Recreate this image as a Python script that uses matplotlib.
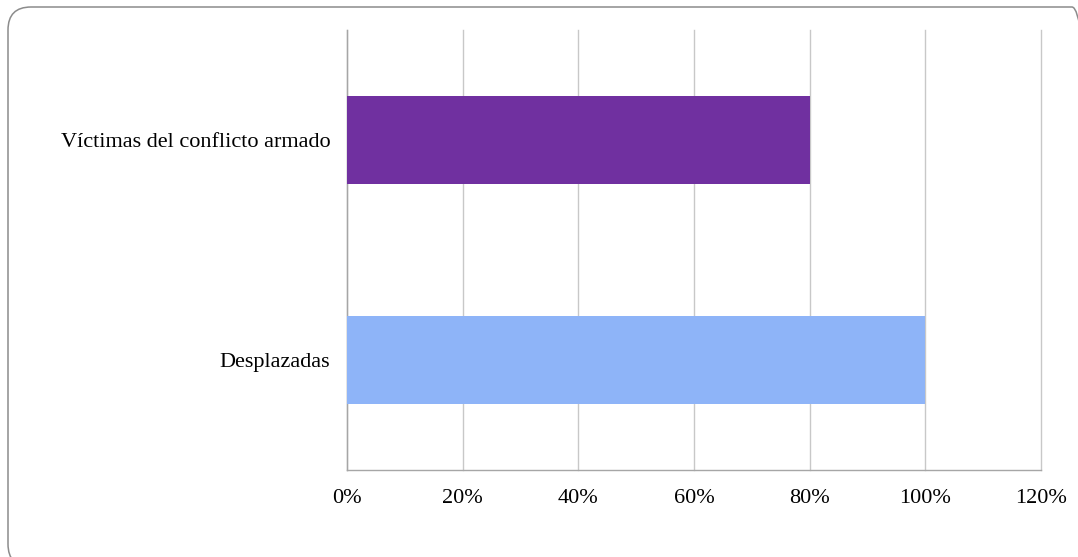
import matplotlib.pyplot as plt
from matplotlib.patches import FancyBboxPatch

# data
categories = ['Desplazadas', 'Víctimas del conflicto armado']
values = [1.00, 0.80]
barColors = ['#8EB4F8', '#7030A0']
xTicks = [0, 0.2, 0.4, 0.6, 0.8, 1.0, 1.2]
xTickLabels = ['0%', '20%', '40%', '60%', '80%', '100%', '120%']

plt.rcParams['font.family'] = ['Liberation Serif', 'DejaVu Serif']

fig = plt.figure(figsize=[10.78, 5.57], dpi=100, facecolor='white')

# rounded frame around the chart (in inches, runs off the right and bottom edges)
frame = FancyBboxPatch((0.08, -0.10), 10.87, 5.60,
                       boxstyle='round,pad=0,rounding_size=0.23',
                       transform=fig.dpi_scale_trans, facecolor='none',
                       edgecolor='#8c8c8c', linewidth=1.1)
fig.patches.append(frame)

ax = fig.add_axes([347/1078, 1 - 470/557, (1041-347)/1078, (470-30)/557])
ax.barh(range(len(categories)), values, height=0.4, color=barColors, zorder=3)
ax.set_xlim(0, 1.2)
ax.set_ylim(-0.5, 1.5)
ax.set_xticks(xTicks)
ax.set_xticklabels(xTickLabels, fontsize=16)
ax.set_yticks(range(len(categories)))
ax.set_yticklabels(categories, fontsize=16)
ax.grid(axis='x', color='#c8c8c8', linewidth=1, zorder=0)
for gl in ax.get_xgridlines():
    gl.set_clip_on(False)
for axis in ['top', 'right']:
    ax.spines[axis].set_visible(False)
for axis in ['left', 'bottom']:
    ax.spines[axis].set_color('#a6a6a6')
    ax.spines[axis].set_linewidth(1)
ax.tick_params(axis='x', length=0, pad=14)
ax.tick_params(axis='y', length=0, pad=12)

plt.savefig('out.png', dpi=100, facecolor='white')
